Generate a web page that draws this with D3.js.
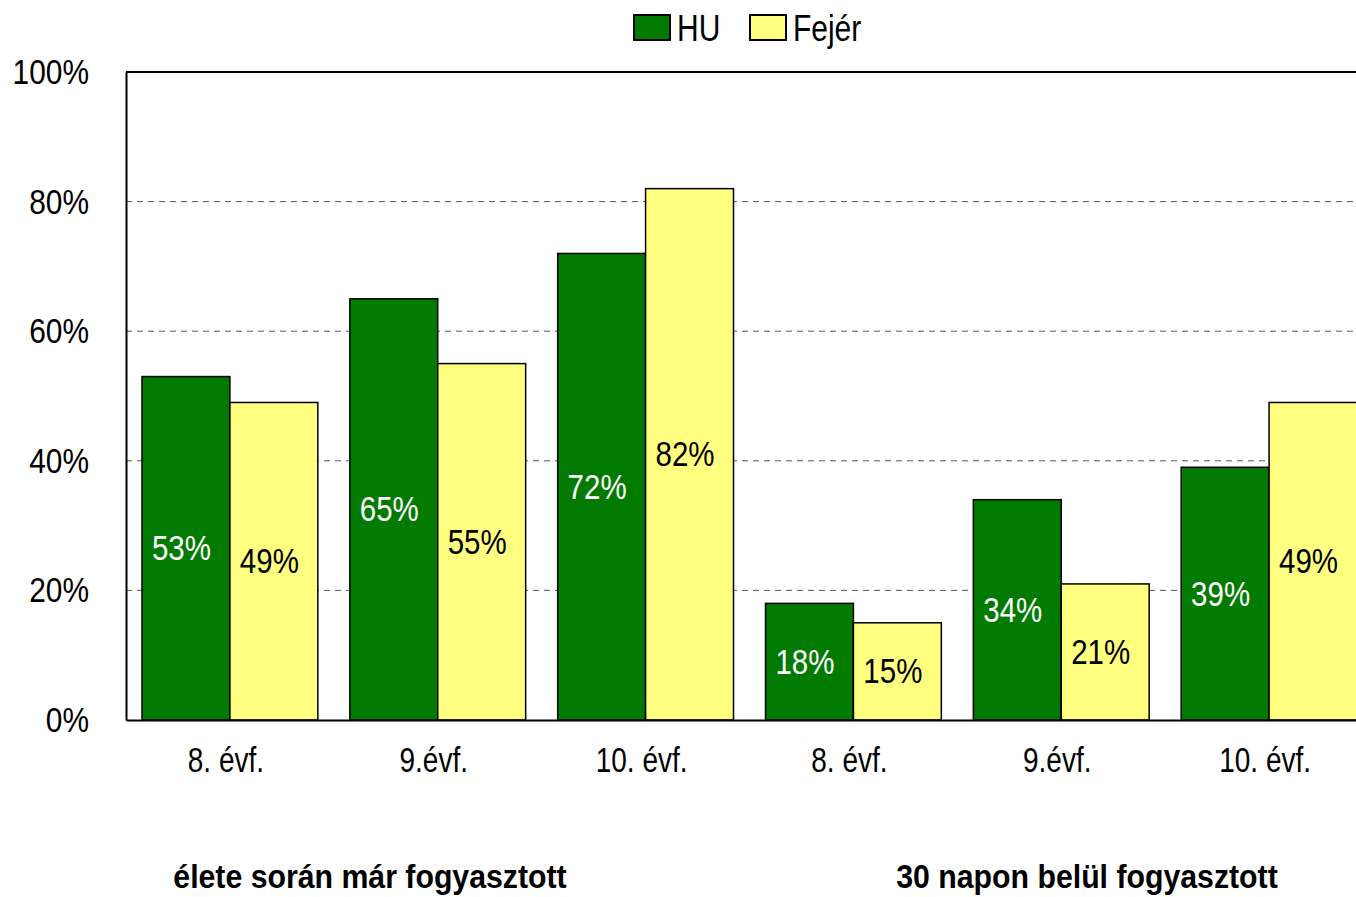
<!DOCTYPE html>
<html><head><meta charset="utf-8">
<script src="https://cdn.jsdelivr.net/npm/d3@7"></script>
<style>
body{margin:0;background:#fff;}
svg text{font-family:"Liberation Sans Narrow","Arial Narrow","Liberation Sans",Arial,sans-serif;}
</style></head>
<body><svg id="c" width="1356" height="897"></svg>
<script>
const categories = ["8. évf.","9.évf.","10. évf.","8. évf.","9.évf.","10. évf."];
const groupLabels = ["élete során már fogyasztott","30 napon belül fogyasztott"];
const seriesNames = ["HU","Fejér"];
const huValues = [53,65,72,18,34,39];
const fejerValues = [49,55,82,15,21,49];
const yTicks = [0,20,40,60,80,100];
const colors = ["#007a00","#ffff80"];
const labelColors = ["#ffffff","#000000"];

const svg = d3.select("#c");
const mLeft = 126, mTop = 72, mBottom = 720, mRight = 1373;
const x = d3.scaleBand().domain(d3.range(categories.length)).range([mLeft,mRight]).paddingInner(0.154).paddingOuter(0.077);
const xs = d3.scaleBand().domain([0,1]).range([0,x.bandwidth()]);
const y = d3.scaleLinear().domain([0,100]).range([mBottom,mTop]);

// horizontally condense text around its x anchor
function narrow(sel, sx){
  sel.each(function(){
    const t = d3.select(this);
    const xv = +(t.attr("x")||0);
    t.attr("transform",`translate(${xv},0) scale(${sx},1) translate(${-xv},0)`);
  });
}

// gridlines
svg.append("g").selectAll("line").data(yTicks.filter(d=>d>0&&d<100)).join("line")
  .attr("x1",mLeft).attr("x2",mRight).attr("y1",d=>y(d)).attr("y2",d=>y(d))
  .attr("stroke","#555").attr("stroke-width",1).attr("stroke-dasharray","6,5");

// bars
const data = categories.map((c,i)=>({i, vals:[huValues[i],fejerValues[i]]}));
const g = svg.append("g").selectAll("g").data(data).join("g").attr("transform",d=>`translate(${x(d.i)},0)`);
g.selectAll("rect").data(d=>d.vals.map((v,k)=>({v,k}))).join("rect")
  .attr("x",d=>xs(d.k)).attr("width",xs.bandwidth())
  .attr("y",d=>y(d.v)).attr("height",d=>mBottom-y(d.v))
  .attr("fill",d=>colors[d.k]).attr("stroke","#000").attr("stroke-width",1.5);
const bl = g.selectAll("text").data(d=>d.vals.map((v,k)=>({v,k}))).join("text")
  .attr("x",d=>xs(d.k)+xs.bandwidth()/2-4.5).attr("y",d=>(y(d.v)+mBottom)/2-1)
  .attr("dy","0.36em").attr("text-anchor","middle").attr("font-size",36)
  .attr("fill",d=>labelColors[d.k]).text(d=>d.v+"%");
narrow(bl,0.82);

// top frame line
svg.append("line").attr("x1",mLeft).attr("x2",mRight).attr("y1",mTop).attr("y2",mTop).attr("stroke","#000").attr("stroke-width",2);

// y axis
const ya = svg.append("g").attr("transform",`translate(${mLeft},0)`)
  .call(d3.axisLeft(y).tickValues(yTicks).tickFormat(d=>d+"%").tickSize(0).tickPadding(37));
ya.select(".domain").attr("stroke","#000").attr("stroke-width",2);
ya.selectAll("text").attr("font-size",36).attr("fill","#000").attr("font-family",null);
narrow(ya.selectAll("text"),0.83);

// x axis
const xa = svg.append("g").attr("transform",`translate(0,${mBottom})`)
  .call(d3.axisBottom(x).tickFormat(i=>categories[i]).tickSize(0).tickPadding(27));
xa.select(".domain").attr("stroke","#000").attr("stroke-width",2);
xa.selectAll("text").attr("font-size",35).attr("fill","#000").attr("font-family",null).attr("x",-4);
narrow(xa.selectAll("text"),0.8);

// group labels
const gx = [370, 1087];
const gl = svg.append("g").selectAll("text").data(groupLabels).join("text")
  .attr("x",(d,i)=>gx[i]).attr("y",888).attr("text-anchor","middle")
  .attr("font-size",34).attr("font-weight","bold").text(d=>d);
narrow(gl,0.89);

// legend
const leg = svg.append("g");
const legX = [634,750];
seriesNames.forEach((s,k)=>{
  leg.append("rect").attr("x",legX[k]).attr("y",15).attr("width",36).attr("height",25)
    .attr("fill",colors[k]).attr("stroke","#000").attr("stroke-width",2);
  const t = leg.append("text").attr("x",legX[k]+43).attr("y",41).attr("font-size",37).text(s);
  narrow(t,0.81);
});
</script></body></html>
